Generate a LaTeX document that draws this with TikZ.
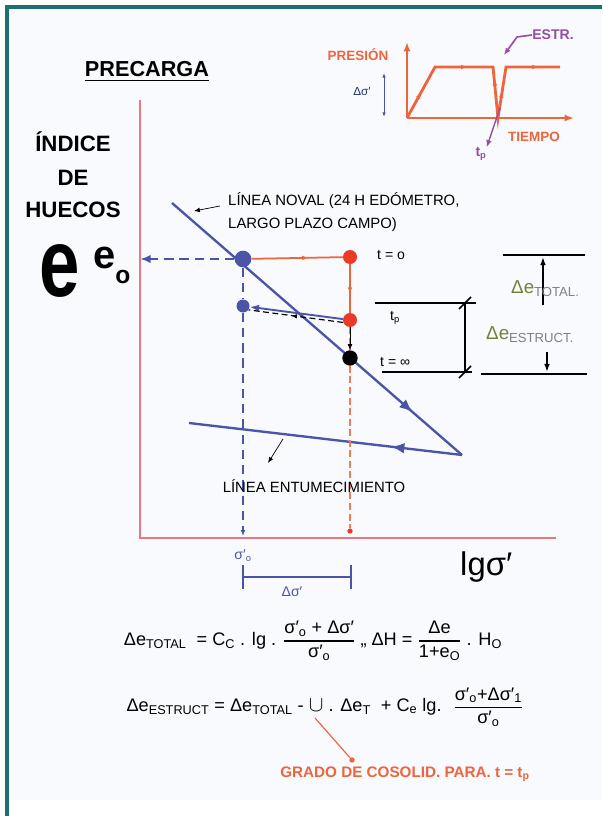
\documentclass[tikz,border=0pt]{standalone}
\usepackage{fontspec}
\setmainfont{Liberation Sans}
\usepackage{amsmath}
\usetikzlibrary{arrows.meta,positioning,calc,decorations.markings}

\definecolor{frameteal}{RGB}{28,112,112}
\definecolor{paper}{RGB}{248,250,253}
\definecolor{axisred}{RGB}{234,120,128}
\definecolor{slate}{RGB}{76,84,168}
\definecolor{dotred}{RGB}{236,58,40}
\definecolor{loadred}{RGB}{238,100,60}
\definecolor{plum}{RGB}{150,78,160}
\definecolor{olivetxt}{RGB}{118,126,58}
\definecolor{navytxt}{RGB}{40,50,110}

\newcommand{\fr}[2]{$\genfrac{}{}{1pt}{0}{\text{#1}}{\text{#2}}$}

\begin{document}
\begin{tikzpicture}[x=0.03cm, y=-0.03cm,
    bdot/.style={circle, fill=slate, minimum size=5mm, inner sep=0pt},
    sbdot/.style={circle, fill=slate, minimum size=3.9mm, inner sep=0pt},
    rdot/.style={circle, fill=dotred, minimum size=4.2mm, inner sep=0pt},
    kdot/.style={circle, fill=black, minimum size=4.6mm, inner sep=0pt},
    tinydot/.style={circle, fill=dotred, minimum size=1.6mm, inner sep=0pt},
    axisln/.style={axisred, line width=2.4pt},
    bline/.style={slate, line width=2pt},
    bdash/.style={slate, line width=2pt, dash pattern=on 8pt off 5pt},
    rdash/.style={loadred!85, line width=2pt, dash pattern=on 6pt off 3pt},
    rline/.style={loadred, line width=1.5pt},
    kthick/.style={black, line width=2.2pt},
    pointer/.style={-{Latex[length=5pt,width=4pt]}, black, line width=0.6pt},
    load/.style={loadred, line width=2.4pt},
    midarr/.style={postaction={decorate}, decoration={markings,
        mark=at position #1 with {\arrow{Latex[length=4mm,width=3.2mm]}}}},
    smarr/.style={postaction={decorate}, decoration={markings,
        mark=at position #1 with {\arrow{Latex[length=5pt,width=4pt]}}}},
    loadmarks/.style={postaction={decorate}, decoration={markings,
        mark=at position 0.106 with {\arrow{Latex[length=5pt,width=4pt]}},
        mark=at position 0.33 with {\arrow{Latex[length=5pt,width=4pt]}},
        mark=at position 0.51 with {\arrow{Latex[length=5pt,width=4pt]}},
        mark=at position 0.71 with {\arrow{Latex[length=5pt,width=4pt]}},
        mark=at position 0.92 with {\arrow{Latex[length=5pt,width=4pt]}}}},
    hd/.style={font=\bfseries\fontsize{19}{20}\selectfont, inner sep=0pt},
    txt/.style={font=\fontsize{12.7}{19}\selectfont, inner sep=0pt},
    lab/.style={font=\fontsize{12}{12}\selectfont, inner sep=0pt},
    dlab/.style={font=\fontsize{16}{18}\selectfont, text=olivetxt, inner sep=0pt},
    orlab/.style={font=\bfseries\fontsize{11.5}{12}\selectfont, text=loadred, inner sep=0pt},
    plumlab/.style={font=\bfseries\fontsize{12}{12}\selectfont, text=plum, inner sep=0pt},
    frm/.style={font=\fontsize{15.5}{18}\selectfont, inner sep=0pt},
]
% Frame and paper
\useasboundingbox (0,0) rectangle (602,816);
\fill[paper] (7,7) rectangle (602,800);
\draw[frameteal, line width=2.6pt] (7,816) -- (7,7) -- (602,7);

% Title and axis label
\node[font=\bfseries\fontsize{18.5}{20}\selectfont, inner sep=0pt, anchor=base] (title) at (147,77) {PRECARGA};
\draw[line width=1.4pt] ([yshift=-2.5pt]title.south west) -- ([yshift=-2.5pt]title.south east);
\node[hd, anchor=base] (indice) at (73,152) {ÍNDICE};
\node[hd, anchor=base] (de) at (73,185) {DE};
\node[hd, anchor=base] (huecos) at (73,217) {HUECOS};
\node[anchor=base, inner sep=0pt, font=\bfseries\fontsize{62}{62}\selectfont] (ebig) at (60,296) {\scalebox{1}[1.33]{e}};
\node[anchor=base west, inner sep=0pt, font=\bfseries\fontsize{34}{34}\selectfont] (eo) at (93,268) {e\raisebox{-0.4em}{\fontsize{21}{21}\selectfont o}};

% Axes
\coordinate (o) at (140,538);
\coordinate (ytop) at (140,100);
\coordinate (xend) at (556,538);
\draw[axisln] (ytop) -- (o) -- (xend);
\node[font=\fontsize{28}{28}\selectfont, anchor=base west, inner sep=0pt] (lg) at (460,575) {lgσ′};

% Noval line and swelling line
\coordinate (nv) at (172,203);
\coordinate (tip) at (462,455);
\coordinate (sw) at (189,423);
\draw[bline, midarr=0.83] (nv) -- (tip);
\draw[bline, midarr=0.26] (tip) -- (sw);

% States
\node[bdot] (A) at (243,259) {};
\node[rdot] (B) at (350,257) {};
\node[rdot] (C) at (350,320) {};
\node[kdot] (D) at (350,358) {};
\node[sbdot] (E) at (243,306) {};
\node[tinydot] (rb) at (350,531) {};
\coordinate (bb) at (243,536);

\draw[bdash, -{Latex[length=9pt,width=7pt]}] (A) -- (A -| o);
\draw[bdash] (A) -- (E);
\draw[bdash, -{Latex[length=5pt,width=4pt]}] (E) -- (bb);
\draw[rline, smarr=0.62] (A) -- (B);
\draw[rline, smarr=0.6] (B) -- (C);
\draw[rdash] (C) -- (D);
\draw[rdash] (D) -- (rb);
\draw[-{Latex[length=5pt,width=4pt]}, line width=0.8pt] (C) -- (D);
\draw[slate, line width=1.6pt, -{Latex[length=8pt,width=6pt]}] (C) -- (E);
\draw[line width=1pt, dash pattern=on 5pt off 3pt, smarr=0.55] (C.200) -- (E.-35);

% Time labels
\node[lab, anchor=west] (t0) at (377,255) {t = o};
\node[lab, anchor=west] (tp) at (390,318) {t\textsubscript{p}};
\node[lab, anchor=west] (tinf) at (380,362) {t = ∞};

% Void ratio steps
\draw[kthick] (375,303) -- (476,303);
\draw[kthick] (382,372) -- (472,372);
\draw[kthick] (465,303) -- (465,372);
\draw[line width=1.3pt] (459,309) -- (471,297);
\draw[line width=1.3pt] (459,378) -- (471,366);
\draw[kthick] (503,255) -- (585,255);
\draw[kthick] (481,374) -- (587,374);
\draw[line width=1.6pt, -{Latex[length=7pt,width=5pt]}] (543,305) -- (543,257);
\draw[line width=1.6pt, -{Latex[length=7pt,width=5pt]}] (547,352) -- (547,372);
\node[dlab, anchor=base west] (dtot) at (511,293) {Δe\textsubscript{\color{gray}TOTAL.}};
\node[dlab, anchor=base west] (dest) at (486,339) {Δe\textsubscript{\color{gray}ESTRUCT.}};

% Line labels
\node[txt, anchor=west, align=left] (noval) at (228,212) {LÍNEA NOVAL (24 H EDÓMETRO,\\LARGO PLAZO CAMPO)};
\coordinate (nvq) at (220,206);
\coordinate (nvp) at (194,211);
\draw[pointer] (nvq) -- (nvp);
\node[txt] (ent) at (314,486) {LÍNEA ENTUMECIMIENTO};
\coordinate (entp) at (283,439);
\coordinate (entq) at (268,463);
\draw[pointer] (entp) -- (entq);

% Stress increment
\node[lab, text=slate] (s0) at (243,556) {σ′\textsubscript{o}};
\coordinate (ds1) at (242,577);
\coordinate (ds2) at (352,577);
\draw[slate, line width=1.8pt, {Bar[width=7mm]}-{Bar[width=7mm]}] (ds1) -- (ds2);
\node[lab, text=slate] (dsig) at (292,592) {Δσ′};

% Inset: load history
\coordinate (io) at (407,118);
\coordinate (iy) at (407,42);
\coordinate (ix) at (574,118);
\coordinate (p1) at (435,67);
\coordinate (p2) at (493,67);
\coordinate (p3) at (498,118);
\coordinate (p4) at (506,67);
\coordinate (p5) at (560,67);
\draw[load, -{Latex[length=8pt,width=6pt]}] (io) -- (iy);
\draw[load, -{Latex[length=8pt,width=6pt]}] (io) -- (ix);
\draw[load, loadmarks] (io) -- (p1) -- (p2) -- (p3) -- (p4) -- (p5);
\node[orlab] (pres) at (358,55) {PRESIÓN};
\node[orlab] (tiempo) at (534,137) {TIEMPO};
\node[lab, text=navytxt, font=\fontsize{10}{10}\selectfont] (dsi) at (362,92) {Δσ′};
\coordinate (da1) at (384,73);
\coordinate (da2) at (384,117);
\draw[slate, line width=0.8pt, {Latex[length=4pt,width=3pt]}-{Latex[length=4pt,width=3pt]}] (da1) -- (da2);
\node[plumlab] (estr) at (553,35) {ESTR.};
\coordinate (ek) at (517,37);
\coordinate (eh) at (504,55);
\draw[plum, line width=1.4pt, -{Latex[length=6pt,width=5pt]}] (estr.west) -- (ek) -- (eh);
\node[plumlab] (tpi) at (481,154) {t\textsubscript{p}};
\coordinate (tp0) at (500,108);
\draw[plum, line width=1.2pt, -{Latex[length=6pt,width=5pt]}] (tp0) -- (tpi.north east);

% Formulas
\node[frm] (eq1) at (313,641) {Δe\textsubscript{TOTAL}\ \ = C\textsubscript{C} . lg . \fr{σ′\textsubscript{o} + Δσ′}{σ′\textsubscript{o}} ,, ΔH = \fr{Δe}{1+e\textsubscript{O}} . H\textsubscript{O}};
\node[frm] (eq2) at (325,707) {Δe\textsubscript{ESTRUCT} = Δe\textsubscript{TOTAL} - \scalebox{1.3}{$\cup$} . Δe\textsubscript{T} \ + C\textsubscript{e} lg. \ \fr{σ′\textsubscript{o}+Δσ′\textsubscript{1}}{σ′\textsubscript{o}}};
\coordinate (cupp) at (315,718);
\node[tinydot, fill=loadred] (gd) at (352,760) {};
\draw[loadred, line width=1pt] (cupp) -- (gd);
\node[font=\bfseries\fontsize{13}{13}\selectfont, text=loadred, inner sep=0pt] (grado) at (405,774) {GRADO DE COSOLID. PARA. t = t\textsubscript{p}};
\end{tikzpicture}
\end{document}
